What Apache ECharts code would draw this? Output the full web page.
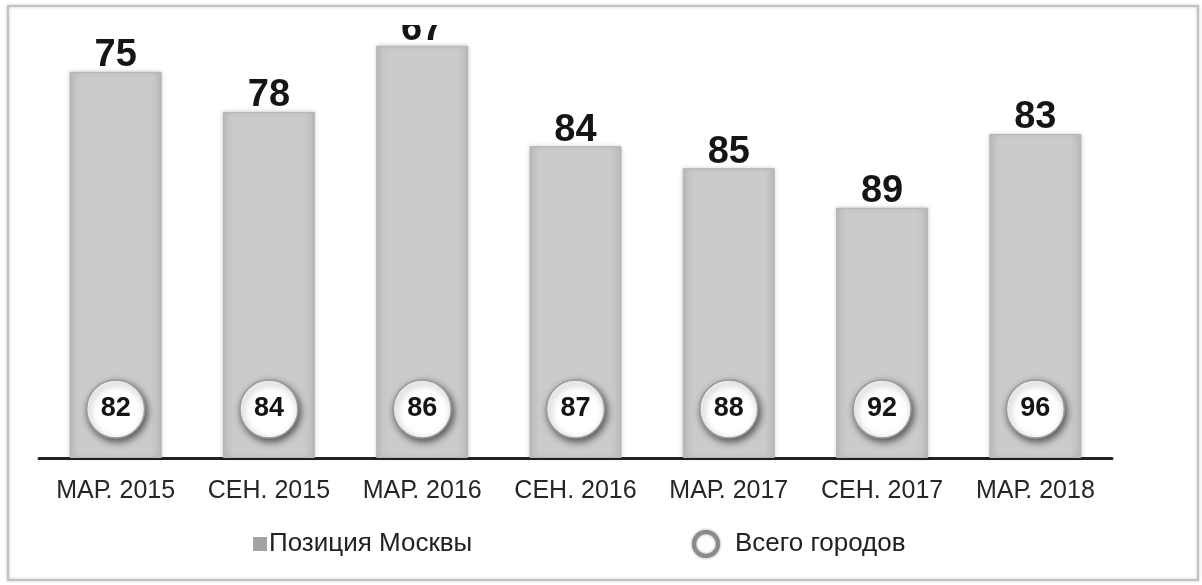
<!DOCTYPE html>
<html>
<head>
<meta charset="utf-8">
<script src="https://cdn.jsdelivr.net/npm/echarts@6/dist/echarts.min.js"></script>
<style>
  html, body { margin: 0; padding: 0; background: #fff; }
  #chart { width: 1202px; height: 585px; }
</style>
</head>
<body>
<div id="chart"></div>
<script>
// периоды
const periods = ['МАР. 2015', 'СЕН. 2015', 'МАР. 2016', 'СЕН. 2016', 'МАР. 2017', 'СЕН. 2017', 'МАР. 2018'];
// позиция Москвы (подпись над столбцом)
const moscowRank = [75, 78, 67, 84, 85, 89, 83];
// высота столбцов, как на картинке (условная шкала 0..100)
const barHeight = [85.8, 76.9, 91.6, 69.3, 64.4, 55.6, 72.0];
// всего городов в рейтинге
const totalCities = [82, 84, 86, 87, 88, 92, 96];

const FONT = 'Liberation Sans, Arial, sans-serif';
const circleLevel = 10.9; // уровень кружков над осью

const chart = echarts.init(document.getElementById('chart'));

const barColor = new echarts.graphic.LinearGradient(0, 0, 1, 0, [
  { offset: 0, color: '#bdbdbd' },
  { offset: 0.12, color: '#cbcbcb' },
  { offset: 0.88, color: '#cbcbcb' },
  { offset: 1, color: '#bcbcbc' }
]);

chart.setOption({
  animation: false,
  backgroundColor: '#fff',
  grid: { left: 39, right: 90, top: 8, bottom: 127 },
  xAxis: {
    type: 'category',
    data: periods,
    axisTick: { show: false },
    axisLine: { lineStyle: { color: '#222', width: 3 } },
    axisLabel: { interval: 0, color: '#262626', fontFamily: FONT, fontSize: 25, margin: 21 }
  },
  yAxis: {
    type: 'value',
    min: 0,
    max: 100,
    show: false,
    splitLine: { show: false }
  },
  legend: [
    {
      left: 248, top: 526,
      itemWidth: 14, itemHeight: 14, itemGap: 0,
      textStyle: { fontFamily: FONT, fontSize: 26, color: '#222', padding: [0, 0, 0, -3] },
      data: [{ name: 'Позиция Москвы', icon: 'rect', itemStyle: { color: '#a3a3a3', borderWidth: 0, shadowBlur: 0 } }]
    },
    {
      left: 687, top: 525,
      itemWidth: 24, itemHeight: 24,
      textStyle: { fontFamily: FONT, fontSize: 26, color: '#222', padding: [0, 0, 0, 12] },
      data: [{ name: 'Всего городов', icon: 'circle', itemStyle: { color: '#fff', borderColor: '#8a8a8a', borderWidth: 4, opacity: 1, shadowBlur: 3, shadowColor: 'rgba(0,0,0,0.4)' } }]
    }
  ],
  series: [
    {
      name: 'Позиция Москвы',
      type: 'bar',
      barWidth: '60%',
      data: barHeight,
      itemStyle: {
        color: barColor,
        borderColor: '#b5b5b5',
        borderWidth: 1,
        shadowBlur: 4,
        shadowColor: 'rgba(0,0,0,0.18)'
      },
      label: {
        show: true,
        position: 'top',
        distance: -3,
        color: '#151515',
        fontFamily: FONT,
        fontWeight: 'bold',
        fontSize: 38,
        formatter: p => moscowRank[p.dataIndex]
      },
      z: 2
    },
    {
      name: 'Всего городов',
      type: 'scatter',
      data: totalCities.map((v, i) => [i, circleLevel]),
      symbol: 'circle',
      symbolSize: 58,
      itemStyle: {
        color: '#fff',
        opacity: 1,
        borderColor: '#9a9a9a',
        borderWidth: 1.5,
        shadowBlur: 7,
        shadowOffsetX: 2,
        shadowOffsetY: 3,
        shadowColor: 'rgba(0,0,0,0.6)'
      },
      label: {
        show: true,
        position: 'inside',
        color: '#151515',
        fontFamily: FONT,
        fontWeight: 'bold',
        fontSize: 27,
        formatter: p => totalCities[p.dataIndex]
      },
      z: 5
    }
  ],
  graphic: [
    // рамка
    {
      type: 'rect',
      shape: { x: 8, y: 6, width: 1190, height: 574 },
      style: { fill: 'none', stroke: '#c2c2c2', lineWidth: 2, shadowBlur: 3, shadowColor: 'rgba(0,0,0,0.25)' },
      z: 50
    },
    // верх подписи "67" обрезан, как в оригинале
    {
      type: 'rect',
      shape: { x: 360, y: 8, width: 130, height: 17 },
      style: { fill: '#fff' },
      z: 40
    }
  ]
});
</script>
</body>
</html>
